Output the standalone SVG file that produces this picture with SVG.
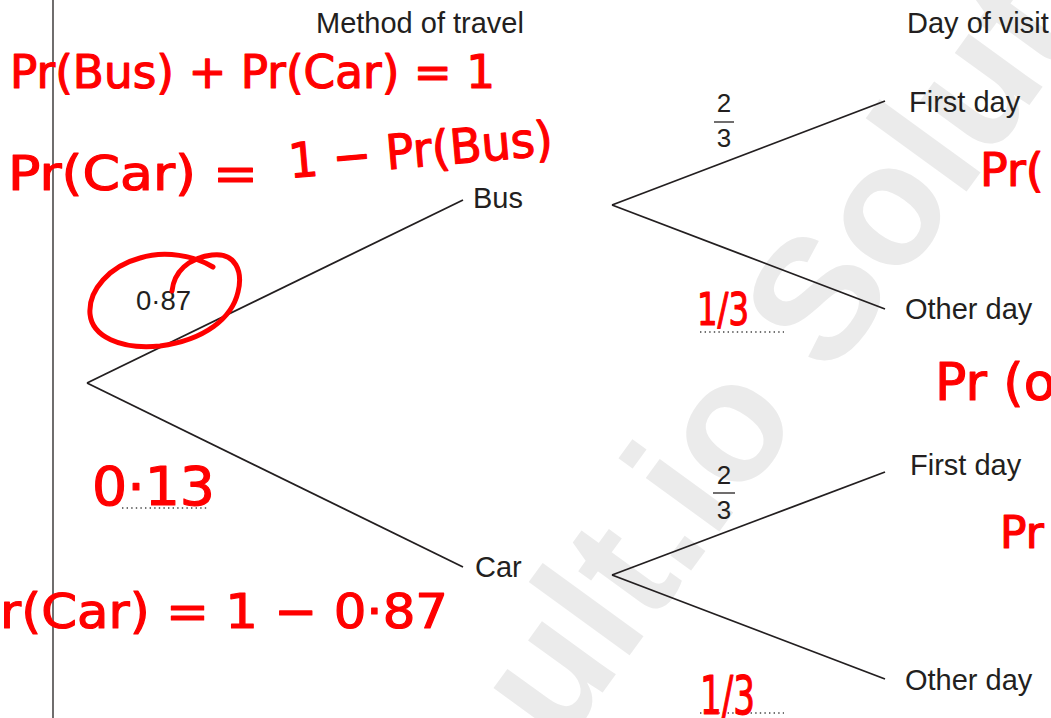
<svg xmlns="http://www.w3.org/2000/svg" width="1051" height="718" viewBox="0 0 1051 718">
<style>
.lbl{font-family:"Liberation Sans",Arial,sans-serif;font-size:29px;fill:#231f20}
.frac{font-family:"Liberation Sans",Arial,sans-serif;font-size:26px;fill:#231f20;text-anchor:middle}
.br{stroke:#231f20;stroke-width:1.8;fill:none}
.dot{stroke:#444;stroke-width:1.4;stroke-dasharray:1.4 3.2;fill:none}
.hw{font-family:"DejaVu Sans","Liberation Sans",sans-serif;fill:#ff0000;stroke:#ff0000;stroke-width:1.2;stroke-linejoin:round}
.wm{font-family:"Liberation Sans",Arial,sans-serif;font-weight:bold;font-size:172px;fill:#ebebeb}
</style>
<rect width="1051" height="718" fill="#ffffff"/>
<g id="watermark" transform="translate(770,462) rotate(-54)">
<text class="wm" x="-356" y="0">ult.io Solut</text>
</g>
<line x1="53" y1="0" x2="53" y2="718" stroke="#231f20" stroke-width="1.3"/>
<text class="lbl" x="316" y="33">Method of travel</text>
<text class="lbl" x="907" y="33">Day of visit</text>
<g id="connectors">
<line class="br" x1="87" y1="383" x2="463" y2="200"/>
<line class="br" x1="87" y1="383" x2="463" y2="567"/>
<line class="br" x1="612" y1="205" x2="885" y2="101"/>
<line class="br" x1="612" y1="205" x2="885" y2="309"/>
<line class="br" x1="612" y1="575" x2="885" y2="472"/>
<line class="br" x1="612" y1="575" x2="885" y2="679"/>
</g>
<g id="node-bus"><text class="lbl" x="473" y="208">Bus</text></g>
<g id="node-car"><text class="lbl" x="475" y="577">Car</text></g>
<g id="node-bus-first"><text class="lbl" x="909" y="112">First day</text></g>
<g id="node-bus-other"><text class="lbl" x="905" y="319">Other day</text></g>
<g id="node-car-first"><text class="lbl" x="910" y="475">First day</text></g>
<g id="node-car-other"><text class="lbl" x="905" y="690">Other day</text></g>
<g id="label-087"><text class="lbl" x="136" y="310" style="font-size:27.5px">0·87</text></g>
<g id="label-frac-upper">
<text class="frac" x="724" y="112">2</text>
<line x1="714" y1="122" x2="734" y2="122" stroke="#231f20" stroke-width="1.3"/>
<text class="frac" x="724" y="147">3</text>
</g>
<g id="label-frac-lower">
<text class="frac" x="724" y="484">2</text>
<line x1="713" y1="493" x2="735" y2="493" stroke="#231f20" stroke-width="1.3"/>
<text class="frac" x="724" y="519">3</text>
</g>
<g id="answer-lines">
<line class="dot" x1="122" y1="508" x2="207" y2="508"/>
<line class="dot" x1="700" y1="332" x2="784" y2="332"/>
<line class="dot" x1="700" y1="713" x2="784" y2="713"/>
</g>
<g id="annotations">
<text class="hw" x="10" y="88" font-size="46" textLength="485" lengthAdjust="spacingAndGlyphs">Pr(Bus) + Pr(Car) = 1</text>
<text class="hw" x="8" y="190" font-size="48" textLength="250" lengthAdjust="spacingAndGlyphs">Pr(Car) =</text>
<text class="hw" x="290" y="178" font-size="48" textLength="265" lengthAdjust="spacingAndGlyphs" transform="rotate(-5 290 178)">1 − Pr(Bus)</text>
<text class="hw" x="980" y="186" font-size="46">Pr(</text>
<text class="hw" x="935" y="400" font-size="52">Pr (ot</text>
<text class="hw" x="1000" y="548" font-size="44">Pr</text>
<text class="hw" x="-30" y="628" font-size="48" textLength="478" lengthAdjust="spacingAndGlyphs">Pr(Car) = 1 − 0·87</text>
<text class="hw" x="92" y="505" font-size="54" textLength="123" lengthAdjust="spacingAndGlyphs">0·13</text>
<text class="hw" x="697" y="325" font-size="44" textLength="52" lengthAdjust="spacingAndGlyphs">1/3</text>
<text class="hw" x="700" y="714" font-size="54" textLength="55" lengthAdjust="spacingAndGlyphs">1/3</text>
<path d="M172,291 C174,272 188,258 212,255 C236,252 243,272 238,292 C232,318 205,340 160,346 C120,350 92,336 90,314 C88,290 110,266 140,258 C165,250 195,256 213,267" fill="none" stroke="#ff0000" stroke-width="5" stroke-linecap="round" stroke-linejoin="round"/>
</g>
</svg>
